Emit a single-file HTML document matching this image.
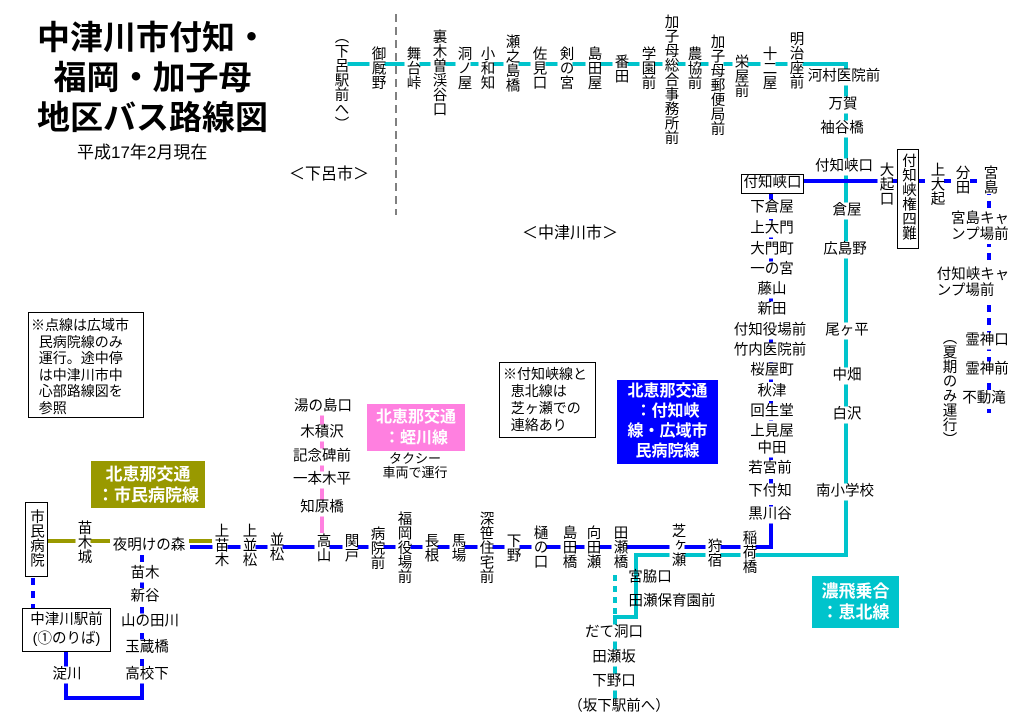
<!DOCTYPE html>
<html><head><meta charset="utf-8">
<style>
body{margin:0;width:1024px;height:723px;background:#fff;position:relative;overflow:hidden;font-family:"Liberation Sans","Noto Sans CJK JP",sans-serif;color:#000}
svg{position:absolute;left:0;top:0}
.v{position:absolute;writing-mode:vertical-rl;background:#fff;font-size:14.5px;line-height:15px;transform:translateX(-50%);white-space:nowrap}
.h{position:absolute;background:#fff;font-size:14.5px;line-height:15px;transform:translate(-50%,-50%);white-space:nowrap;padding:1px 1px}
.box{position:absolute;border:1.5px solid #000;background:#fff;box-sizing:border-box}
.cb{position:absolute;color:#fff;font-weight:bold;font-size:16px;line-height:21px;box-sizing:border-box;text-align:center;display:flex;flex-direction:column;justify-content:center}
</style></head><body>
<svg width="1024" height="723">
<g fill="none" stroke-width="4">
<polyline points="345,64 846,64 846,555 636,555 636,617 615,617 615,700" stroke="#00C4CC"/>
<line x1="615" y1="575" x2="615" y2="617" stroke="#00C4CC" stroke-dasharray="6,5"/>
<line x1="190" y1="547" x2="773" y2="547" stroke="#0000FF"/>
<line x1="771" y1="520" x2="771" y2="549" stroke="#0000FF"/>
<line x1="771" y1="193" x2="771" y2="520" stroke="#0000FF" stroke-dasharray="7,6"/>
<line x1="803" y1="181" x2="898" y2="181" stroke="#0000FF"/>
<polyline points="918,181 989,181 989,413" stroke="#0000FF" stroke-dasharray="7,6"/>
<line x1="47" y1="541" x2="110" y2="541" stroke="#999900"/>
<line x1="189" y1="541" x2="212" y2="541" stroke="#999900"/>
<line x1="142" y1="555" x2="142" y2="683" stroke="#0000FF" stroke-dasharray="7,6"/>
<polyline points="142,683 142,698 66,698 66,651" stroke="#0000FF"/>
<line x1="33" y1="578" x2="33" y2="608" stroke="#0000FF" stroke-dasharray="7,6"/>
<line x1="322" y1="413" x2="322" y2="545" stroke="#FF80E0"/>
</g>
<line x1="396" y1="14" x2="396" y2="215" stroke="#000" stroke-width="1" stroke-dasharray="8,5"/>
</svg>

<!-- title -->
<div style="position:absolute;left:20px;top:18px;width:265px;text-align:center;font-size:33px;line-height:40px;font-weight:bold">中津川市付知・<br>福岡・加子母<br>地区バス路線図</div>
<div style="position:absolute;left:77px;top:143px;font-size:17px;line-height:20px">平成17年2月現在</div>
<div style="position:absolute;left:289px;top:165px;font-size:16px;line-height:20px">＜下呂市＞</div>
<div style="position:absolute;left:522px;top:224px;font-size:16px;line-height:20px">＜中津川市＞</div>

<!-- top line stations -->
<div class="v" style="left:340px;top:29px">（下呂駅前へ）</div>
<div class="v" style="left:377px;top:46px">御厩野</div>
<div class="v" style="left:412px;top:46px">舞台峠</div>
<div class="v" style="left:438px;top:29px">裏木曽渓谷口</div>
<div class="v" style="left:463px;top:46px">洞ノ屋</div>
<div class="v" style="left:486px;top:46px">小和知</div>
<div class="v" style="left:511px;top:34px">瀬之島橋</div>
<div class="v" style="left:538px;top:46px">佐見口</div>
<div class="v" style="left:565px;top:46px">剣の宮</div>
<div class="v" style="left:593px;top:46px">島田屋</div>
<div class="v" style="left:620px;top:54px">番田</div>
<div class="v" style="left:647px;top:46px">学園前</div>
<div class="v" style="left:670px;top:14px">加子母総合事務所前</div>
<div class="v" style="left:693px;top:46px">農協前</div>
<div class="v" style="left:716px;top:34px">加子母郵便局前</div>
<div class="v" style="left:740px;top:54px">栄屋前</div>
<div class="v" style="left:768px;top:46px">十二屋</div>
<div class="v" style="left:795px;top:31px">明治座前</div>

<div class="h" style="left:844px;top:77px">河村医院前</div>
<div class="h" style="left:843px;top:105px">万賀</div>
<div class="h" style="left:842px;top:129px">袖谷橋</div>
<div class="h" style="left:844px;top:167px">付知峡口</div>
<div class="v" style="left:885px;top:162px">大起口</div>
<div class="box" style="left:897px;top:149px;width:22px;height:100px;border-width:1.5px"><div style="writing-mode:vertical-rl;font-size:14.5px;line-height:15px;margin:3px 0 0 2px">付知峡権四難</div></div>
<div class="v" style="left:936px;top:162px">上大起</div>
<div class="v" style="left:961px;top:165px">分田</div>
<div class="v" style="left:989px;top:165px">宮島</div>
<div class="h" style="left:980px;top:227px;text-align:left;line-height:16px">宮島キャ<br>ンプ場前</div>
<div class="h" style="left:973px;top:283px;text-align:left;line-height:16px">付知峡キャ<br>ンプ場前</div>
<div class="h" style="left:987px;top:341px">霊神口</div>
<div class="h" style="left:987px;top:370px">霊神前</div>
<div class="h" style="left:984px;top:399px">不動滝</div>
<div class="v" style="left:948px;top:330px">（夏期のみ運行）</div>

<div class="box" style="left:741px;top:174px;width:63px;height:20px"><div style="font-size:14.5px;line-height:17px;text-align:center">付知峡口</div></div>
<div class="h" style="left:772px;top:208px">下倉屋</div>
<div class="h" style="left:772px;top:229px">上大門</div>
<div class="h" style="left:772px;top:250px">大門町</div>
<div class="h" style="left:772px;top:270px">一の宮</div>
<div class="h" style="left:772px;top:290px">藤山</div>
<div class="h" style="left:772px;top:310px">新田</div>
<div class="h" style="left:770px;top:331px">付知役場前</div>
<div class="h" style="left:770px;top:351px">竹内医院前</div>
<div class="h" style="left:772px;top:371px">桜屋町</div>
<div class="h" style="left:772px;top:392px">秋津</div>
<div class="h" style="left:772px;top:412px">回生堂</div>
<div class="h" style="left:772px;top:432px">上見屋</div>
<div class="h" style="left:772px;top:449px">中田</div>
<div class="h" style="left:770px;top:469px">若宮前</div>
<div class="h" style="left:770px;top:492px">下付知</div>
<div class="h" style="left:770px;top:515px">黒川谷</div>

<div class="h" style="left:847px;top:211px">倉屋</div>
<div class="h" style="left:845px;top:250px">広島野</div>
<div class="h" style="left:847px;top:331px">尾ヶ平</div>
<div class="h" style="left:847px;top:376px">中畑</div>
<div class="h" style="left:847px;top:415px">白沢</div>
<div class="h" style="left:845px;top:492px">南小学校</div>

<!-- main line -->
<div class="box" style="left:25px;top:502px;width:23px;height:75px"><div style="writing-mode:vertical-rl;font-size:14.5px;line-height:15px;margin:6px 0 0 2px">市民病院</div></div>
<div class="v" style="left:83px;top:520px">苗木城</div>
<div class="h" style="left:149px;top:546px">夜明けの森</div>
<div class="v" style="left:220px;top:523px">上苗木</div>
<div class="v" style="left:248px;top:523px">上並松</div>
<div class="v" style="left:275px;top:532px">並松</div>
<div class="v" style="left:322px;top:533px">高山</div>
<div class="v" style="left:350px;top:533px">関戸</div>
<div class="v" style="left:376px;top:526px">病院前</div>
<div class="v" style="left:403px;top:511px">福岡役場前</div>
<div class="v" style="left:430px;top:533px">長根</div>
<div class="v" style="left:457px;top:533px">馬場</div>
<div class="v" style="left:485px;top:511px">深笹住宅前</div>
<div class="v" style="left:512px;top:533px">下野</div>
<div class="v" style="left:539px;top:525px">樋の口</div>
<div class="v" style="left:568px;top:525px">島田橋</div>
<div class="v" style="left:592px;top:525px">向田瀬</div>
<div class="v" style="left:619px;top:525px">田瀬橋</div>
<div class="v" style="left:677px;top:523px">芝ヶ瀬</div>
<div class="v" style="left:713px;top:538px">狩宿</div>
<div class="v" style="left:748px;top:530px">稲荷橋</div>

<div class="h" style="left:650px;top:578px;background:transparent">宮脇口</div>
<div class="h" style="left:672px;top:602px;background:transparent">田瀬保育園前</div>
<div class="h" style="left:614px;top:633px">だて洞口</div>
<div class="h" style="left:614px;top:658px">田瀬坂</div>
<div class="h" style="left:614px;top:682px">下野口</div>
<div class="h" style="left:619px;top:707px">（坂下駅前へ）</div>

<!-- pink -->
<div class="h" style="left:323px;top:407px">湯の島口</div>
<div class="h" style="left:322px;top:433px">木積沢</div>
<div class="h" style="left:322px;top:457px">記念碑前</div>
<div class="h" style="left:322px;top:480px">一本木平</div>
<div class="h" style="left:322px;top:508px">知原橋</div>
<div class="cb" style="left:367px;top:404px;width:98px;height:47px;background:#FF80E0">北恵那交通<br>：蛭川線</div>
<div style="position:absolute;left:375px;top:452px;width:80px;text-align:center;font-size:13px;line-height:14px">タクシー<br>車両で運行</div>

<!-- olive box -->
<div class="cb" style="left:91px;top:461px;width:114px;height:47px;background:#999900;font-size:17px">北恵那交通<br>：市民病院線</div>

<!-- blue box -->
<div class="cb" style="left:617px;top:380px;width:101px;height:84px;background:#0000FF;line-height:20px">北恵那交通<br>：付知峡<br>線・広域市<br>民病院線</div>

<!-- cyan box -->
<div class="cb" style="left:812px;top:576px;width:87px;height:52px;background:#00C4CC;font-size:17px">濃飛乗合<br>：恵北線</div>

<!-- notes -->
<div class="box" style="left:499px;top:362px;width:97px;height:76px"><div style="font-size:14px;line-height:17px;padding:3px 0 0 3px">※付知峡線と<br>&nbsp;&nbsp;恵北線は<br>&nbsp;&nbsp;芝ヶ瀬での<br>&nbsp;&nbsp;連絡あり</div></div>
<div class="box" style="left:28px;top:312px;width:116px;height:106px"><div style="font-size:14px;line-height:16.5px;padding:4px 0 0 2px">※点線は広域市<br>&nbsp;&nbsp;民病院線のみ<br>&nbsp;&nbsp;運行。途中停<br>&nbsp;&nbsp;は中津川市中<br>&nbsp;&nbsp;心部路線図を<br>&nbsp;&nbsp;参照</div></div>

<!-- bottom left -->
<div class="box" style="left:22px;top:608px;width:89px;height:44px"><div style="font-size:14.5px;line-height:19px;text-align:center;padding-top:2px">中津川駅前<br>(①のりば)</div></div>
<div class="h" style="left:145px;top:574px">苗木</div>
<div class="h" style="left:145px;top:597px">新谷</div>
<div class="h" style="left:150px;top:622px">山の田川</div>
<div class="h" style="left:147px;top:648px">玉蔵橋</div>
<div class="h" style="left:147px;top:675px">高校下</div>
<div class="h" style="left:67px;top:675px">淀川</div>
</body></html>
